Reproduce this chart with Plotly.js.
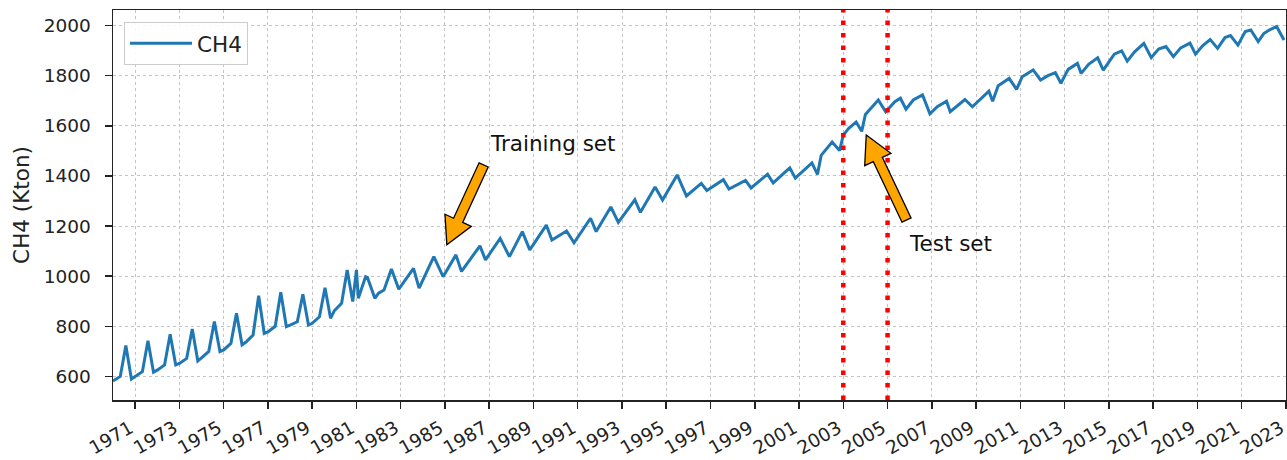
<!DOCTYPE html>
<html>
<head>
<meta charset="utf-8">
<script src="https://cdn.plot.ly/plotly-3.0.1.min.js"></script>
<style>html,body{margin:0;padding:0;background:#fff;}#chart{width:1287px;height:460px;}</style>
</head>
<body>
<div id="chart"></div>
<script>
// ---- data (monthly CH4, key points) ----
const months = [
 '1970-01','1970-05','1970-08','1970-11','1971-01','1971-05','1971-08','1971-11',
 '1972-01','1972-05','1972-08','1972-11','1973-01','1973-05','1973-08','1973-11',
 '1974-01','1974-05','1974-08','1974-11','1975-01','1975-05','1975-08','1975-11',
 '1976-01','1976-05','1976-08','1976-11','1977-01','1977-05','1977-08','1977-11',
 '1978-01','1978-05','1978-08','1978-11','1979-01','1979-05','1979-08','1979-11',
 '1980-01','1980-05','1980-08','1980-11','1981-01','1981-02','1981-06','1981-07','1981-11',
 '1982-01','1982-04','1982-08','1982-12','1983-08','1983-11','1984-07','1984-12',
 '1985-07','1985-10','1986-08','1986-11','1987-07','1987-12','1988-07','1988-11',
 '1989-08','1989-11','1990-07','1990-11','1991-08','1991-11','1992-07','1992-11',
 '1993-08','1993-11','1994-07','1994-11','1995-07','1995-12','1996-08','1996-11',
 '1997-08','1997-11','1998-08','1998-11','1999-08','1999-11','2000-08','2000-11',
 '2001-08','2001-11','2002-01','2002-07','2002-11','2003-01','2003-04','2003-08','2003-11',
 '2004-01','2004-08','2004-12','2005-05','2005-08','2005-11','2006-03','2006-08','2006-12',
 '2007-04','2007-09','2007-11','2008-07','2008-11','2009-08','2009-10','2010-01','2010-07','2010-11',
 '2011-02','2011-08','2011-12','2012-04','2012-08','2012-11','2013-03','2013-08','2013-10',
 '2014-02','2014-07','2014-10','2015-04','2015-08','2015-11','2016-03','2016-08','2016-12',
 '2017-04','2017-08','2017-12','2018-04','2018-09','2018-12','2019-04','2019-08','2019-12',
 '2020-04','2020-07','2020-11','2021-03','2021-06','2021-10','2022-01','2022-04','2022-08','2022-12'
];
const ch4 = [
 582,600,723,590, 600,619,742,617,
 625,646,768,646, 652,672,789,662,
 674,700,819,699, 706,732,852,726,
 736,765,922,772, 778,800,936,799,
 805,818,928,805, 812,838,954,832,
 862,892,1025,899, 1025,912,998,995,912,
 932,945,1029,948, 1031,952, 1078,998,
 1085,1019, 1121,1065, 1151,1078, 1178,1105,
 1204,1144, 1180,1133, 1231,1178, 1276,1215,
 1305,1255, 1356,1304, 1404,1320, 1370,1342,
 1385,1348, 1382,1352, 1407,1372, 1432,1391,
 1452,1406, 1482,1535,1501, 1563,1590,1615,1578,
 1645,1703,1656, 1696,1710,1666, 1703,1723,1648,
 1676,1698,1656, 1705,1676, 1738,1698, 1760,1789,1745,
 1796,1823,1783, 1800,1812,1770, 1825,1849,1809,
 1845,1871,1822, 1886,1899,1858, 1895,1929,1872,
 1906,1916,1876, 1911,1930,1886, 1920,1944,1909,
 1952,1960,1922, 1976,1982,1936, 1968,1982,1996,1942
];
const tickYears = ['1971','1973','1975','1977','1979','1981','1983','1985','1987','1989',
 '1991','1993','1995','1997','1999','2001','2003','2005','2007','2009','2011','2013',
 '2015','2017','2019','2021','2023'];
const yTicks = [600, 800, 1000, 1200, 1400, 1600, 1800, 2000];
const splitDates = ['2003-01-01', '2005-01-01'];
const labels = ['Training set', 'Test set'];
const labelPos = [['1986-12-20', 1531], ['2005-11-25', 1132]];
const arrowTips = [['1985-02-01', 1125], ['2004-01-15', 1563]];
const arrowTails = [['1986-10-01', 1444], ['2005-11-10', 1224]];

// ---- geometry ----
const W = 1287, Hh = 460;
const M = {l: 113, r: 1, t: 10, b: 60};
const xRange = ['1970-01-01', '2023-01-03'];
const yRange = [506, 2062];
const PW = W - M.l - M.r, PH = Hh - M.t - M.b;
const x0ms = Date.parse(xRange[0]), x1ms = Date.parse(xRange[1]);
function toPx(d, v) {
  return [(Date.parse(d) - x0ms) / (x1ms - x0ms) * PW,
          (1 - (v - yRange[0]) / (yRange[1] - yRange[0])) * PH];
}
function arrowPath(tip, tail) {
  const T = toPx(tip[0], tip[1]), S = toPx(tail[0], tail[1]);
  let ux = T[0] - S[0], uy = T[1] - S[1];
  const len = Math.hypot(ux, uy); ux /= len; uy /= len;
  const nx = -uy, ny = ux;
  const hl = 27, hw = 14.5, sw = 5;
  const B = [T[0] - ux * hl, T[1] - uy * hl];
  const pts = [
    T,
    [B[0] + nx * hw, B[1] + ny * hw],
    [B[0] + nx * sw, B[1] + ny * sw],
    [S[0] + nx * sw, S[1] + ny * sw],
    [S[0] - nx * sw, S[1] - ny * sw],
    [B[0] - nx * sw, B[1] - ny * sw],
    [B[0] - nx * hw, B[1] - ny * hw]
  ];
  return 'M ' + pts.map(p => (p[0] / PW).toFixed(5) + ',' + (1 - p[1] / PH).toFixed(5)).join(' L ') + ' Z';
}

const FONT = 'DejaVu Sans, Arial, sans-serif';
const FS = 18.5;   // tick labels
const FL = 21.5;   // legend, annotations, axis title

const shapes = splitDates.map(d => ({
  type: 'line', xref: 'x', yref: 'paper', x0: d, x1: d, y0: 0, y1: 1,
  line: {color: '#ff0000', width: 4.5, dash: '4.5px,8px'}
})).concat(arrowTips.map((tip, i) => ({
  type: 'path', xref: 'paper', yref: 'paper', path: arrowPath(tip, arrowTails[i]),
  fillcolor: '#FFA500', line: {color: '#000000', width: 1.3}
})));

const annotations = labels.map((t, i) => ({
  text: t, xref: 'x', yref: 'y', x: labelPos[i][0], y: labelPos[i][1],
  xanchor: 'left', yanchor: 'middle', showarrow: false,
  font: {family: FONT, size: FL, color: '#111'}
}));

const trace = {
  x: months, y: ch4, type: 'scatter', mode: 'lines', name: 'CH4',
  line: {color: '#1f77b4', width: 3}
};

const layout = {
  width: W, height: Hh, margin: M,
  paper_bgcolor: '#fff', plot_bgcolor: '#fff',
  font: {family: FONT, size: FS, color: '#222'},
  showlegend: true,
  legend: {x: 0.0094, y: 0.97, xanchor: 'left', yanchor: 'top', itemwidth: 62,
    bgcolor: 'rgba(255,255,255,0.9)', bordercolor: '#cccccc', borderwidth: 1,
    font: {family: FONT, size: FL, color: '#222'}},
  xaxis: {
    type: 'date', range: xRange,
    tickvals: tickYears.map(y => y + '-01-01'), ticktext: tickYears,
    tickangle: -30, ticks: 'outside', ticklen: 7, tickwidth: 1.5, tickcolor: '#222',
    ticklabeloverflow: 'allow', ticklabelstandoff: 2, ticklabelshift: -5,
    showline: true, linecolor: '#222', linewidth: 1.5, mirror: true,
    showgrid: true, gridcolor: '#c4c4c4', griddash: 'dot', gridwidth: 1,
    zeroline: false, tickfont: {family: FONT, size: FS, color: '#222'}
  },
  yaxis: {
    range: yRange, tickvals: yTicks,
    ticks: 'outside', ticklen: 7, tickwidth: 1.5, tickcolor: '#222',
    ticklabelstandoff: 10,
    showline: true, linecolor: '#222', linewidth: 1.5, mirror: true,
    showgrid: true, gridcolor: '#c4c4c4', griddash: 'dot', gridwidth: 1,
    zeroline: false, tickfont: {family: FONT, size: FS, color: '#222'},
    title: {text: 'CH4 (Kton)', standoff: 8, font: {family: FONT, size: FL, color: '#222'}}
  },
  shapes: shapes,
  annotations: annotations
};

Plotly.newPlot('chart', [trace], layout, {displayModeBar: false, staticPlot: true});
</script>
</body>
</html>
